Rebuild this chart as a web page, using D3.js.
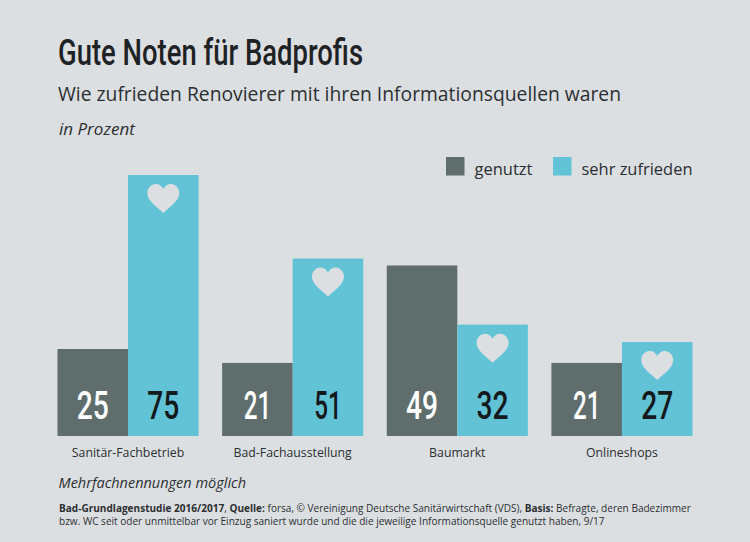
<!DOCTYPE html>
<html><head><meta charset="utf-8">
<script src="https://cdnjs.cloudflare.com/ajax/libs/d3/7.8.5/d3.min.js"></script>
<style>html,body{margin:0;padding:0;background:#dcdfe2}svg{display:block}text{font-family:"Open Sans",sans-serif}</style>
</head><body><svg id="c" width="750" height="542"></svg>
<script>
const categories = ["Sanitär-Fachbetrieb","Bad-Fachausstellung","Baumarkt","Onlineshops"];
const genutzt = [25,21,49,21];
const zufrieden = [75,51,32,27];
const seriesNames = ["genutzt","sehr zufrieden"];
const colors = ["#5f6e6d","#62c3d7"];
const title = "Gute Noten für Badprofis";
const subtitle = "Wie zufrieden Renovierer mit ihren Informationsquellen waren";
const unit = "in Prozent";
const note = "Mehrfachnennungen möglich";

const svg = d3.select("#c");
const x = d3.scaleBand().domain(categories).range([57.5,692.5]).paddingInner(0.143).paddingOuter(0);
const sub = d3.scaleBand().domain([0,1]).range([0,x.bandwidth()]);
const y = d3.scaleLinear().domain([0,75]).range([436,175]);
const cond = "Roboto,'Liberation Sans',sans-serif";
const numWidth = v => String(v).split("").reduce((a,c)=>a+(c==="1"?11.5:16),0);

svg.append("text").attr("x",58).attr("y",65).attr("font-size",36).attr("font-weight",500).attr("fill","#1e2224")
  .style("font-family",cond).attr("textLength",305).attr("lengthAdjust","spacingAndGlyphs").text(title);
svg.append("text").attr("x",58).attr("y",100.5).attr("font-size",19.5).attr("fill","#2b2f31")
  .attr("textLength",563).attr("lengthAdjust","spacingAndGlyphs").text(subtitle);
svg.append("text").attr("x",59).attr("y",134.5).attr("font-size",17).attr("font-style","italic").attr("fill","#2b2f31").text(unit);

// legend
const lg = [{x:446,tx:474.5,w:58},{x:553,tx:581.5,w:111}];
seriesNames.forEach((n,i)=>{
  svg.append("rect").attr("x",lg[i].x).attr("y",157).attr("width",18.5).attr("height",18.5).attr("fill",colors[i]);
  svg.append("text").attr("x",lg[i].tx).attr("y",175).attr("font-size",16.5).attr("fill","#2b2f31")
    .attr("textLength",lg[i].w).attr("lengthAdjust","spacingAndGlyphs").text(n);
});

const heart = "M0,14 C-6,8 -16,2 -16,-6 C-16,-11 -12,-15 -7.5,-15 C-4,-15 -1.5,-13 0,-10 C1.5,-13 4,-15 7.5,-15 C12,-15 16,-11 16,-6 C16,2 6,8 0,14 Z";

const g = svg.selectAll("g.grp").data(categories).join("g").attr("class","grp")
  .attr("transform",d=>`translate(${x(d)},0)`);
[genutzt,zufrieden].forEach((vals,s)=>{
  g.append("rect").attr("x",sub(s)).attr("width",sub.bandwidth())
    .attr("y",(d,i)=>y(vals[i])).attr("height",(d,i)=>y(0)-y(vals[i])).attr("fill",colors[s]);
  g.append("text").attr("x",sub(s)+sub.bandwidth()/2).attr("y",418.5).attr("text-anchor","middle")
    .attr("font-size",39).attr("font-weight",500).style("font-family",cond)
    .attr("textLength",(d,i)=>numWidth(vals[i])).attr("lengthAdjust","spacingAndGlyphs")
    .attr("fill",s?"#14191c":"#ffffff").text((d,i)=>vals[i]);
});
g.append("path").attr("d",heart).attr("fill","#dcdfe2")
  .attr("transform",(d,i)=>`translate(${sub(1)+sub.bandwidth()/2},${y(zufrieden[i])+24})`);
g.append("text").attr("x",x.bandwidth()/2).attr("y",457).attr("text-anchor","middle")
  .attr("font-size",12.3).attr("fill","#2b2f31").text(d=>d);

svg.append("text").attr("x",58.5).attr("y",488).attr("font-size",14.5).attr("font-style","italic").attr("fill","#2b2f31").text(note);

const f1 = svg.append("text").attr("x",59).attr("y",512).attr("font-size",10.05).attr("fill","#2b2f31");
[["Bad-Grundlagenstudie 2016/2017",1],[", ",0],["Quelle:",1],[" forsa, © Vereinigung Deutsche Sanitärwirtschaft (VDS), ",0],["Basis:",1],[" Befragte, deren Badezimmer",0]]
 .forEach(([t,b])=>f1.append("tspan").attr("font-weight",b?700:400).text(t));
svg.append("text").attr("x",59).attr("y",524.5).attr("font-size",10.05).attr("fill","#2b2f31")
  .text("bzw. WC seit oder unmittelbar vor Einzug saniert wurde und die die jeweilige Informationsquelle genutzt haben, 9/17");
</script></body></html>
